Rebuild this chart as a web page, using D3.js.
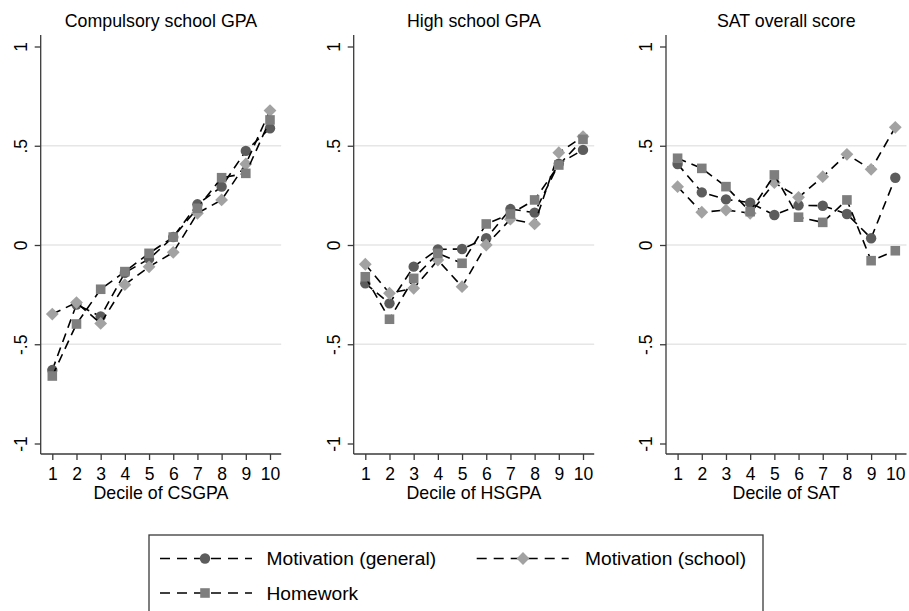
<!DOCTYPE html>
<html>
<head>
<meta charset="utf-8">
<script src="https://cdn.jsdelivr.net/npm/d3@7"></script>
<style>
  html, body { margin: 0; padding: 0; background: #fff; }
  svg { display: block; font-family: "Liberation Sans", Arial, sans-serif; }
</style>
</head>
<body>
<svg id="chart" width="909" height="611"></svg>
<script>
// ---- data ----
const deciles = [1, 2, 3, 4, 5, 6, 7, 8, 9, 10];
const panelTitles = ["Compulsory school GPA", "High school GPA", "SAT overall score"];
const xTitles = ["Decile of CSGPA", "Decile of HSGPA", "Decile of SAT"];
const yTicks = [-1, -0.5, 0, 0.5, 1];
const yTickLabels = ["-1", "-.5", "0", ".5", "1"];
const seriesNames = ["Motivation (general)", "Motivation (school)", "Homework"];

const csgpaGeneral  = [-0.63, -0.30, -0.36, -0.14, -0.07, 0.04, 0.205, 0.294, 0.474, 0.588];
const csgpaSchool   = [-0.348, -0.29, -0.395, -0.20, -0.11, -0.037, 0.16, 0.227, 0.408, 0.677];
const csgpaHomework = [-0.66, -0.398, -0.223, -0.134, -0.042, 0.04, 0.185, 0.339, 0.361, 0.63];

const hsgpaGeneral  = [-0.193, -0.294, -0.109, -0.022, -0.02, 0.034, 0.181, 0.163, 0.41, 0.479];
const hsgpaSchool   = [-0.097, -0.243, -0.218, -0.076, -0.21, 0.0, 0.13, 0.106, 0.465, 0.546];
const hsgpaHomework = [-0.16, -0.374, -0.168, -0.042, -0.092, 0.106, 0.156, 0.227, 0.403, 0.532];

const satGeneral  = [0.408, 0.265, 0.23, 0.213, 0.151, 0.2, 0.198, 0.156, 0.034, 0.339];
const satSchool   = [0.294, 0.165, 0.176, 0.16, 0.314, 0.24, 0.344, 0.457, 0.381, 0.593];
const satHomework = [0.437, 0.386, 0.294, 0.168, 0.353, 0.14, 0.114, 0.227, -0.079, -0.029];

const panelData = [
  [csgpaGeneral, csgpaSchool, csgpaHomework],
  [hsgpaGeneral, hsgpaSchool, hsgpaHomework],
  [satGeneral, satSchool, satHomework]
];

// ---- styles ----
const markerColors = ["#5c5c5c", "#a2a2a2", "#7e7e7e"];
const markerSizes = [85, 82, 92];
const dash = "9,6";
const axisColor = "#3a3a3a";

function markerPath(s) {
  if (s === 0) return d3.symbol().type(d3.symbolCircle).size(markerSizes[s])();
  return d3.symbol().type(d3.symbolSquare).size(markerSizes[s])();
}
function markerRot(s) { return s === 1 ? " rotate(45)" : ""; }

const svg = d3.select("#chart");

const plotLefts = [40.7, 353.7, 666];
const plotW = 240.5;
const plotTop = 35, plotBottom = 454;

const y = d3.scaleLinear().domain([-1, 1]).range([443.5, 46.5]);

panelData.forEach((series, p) => {
  const left = plotLefts[p];
  const x = d3.scaleLinear().domain([1, 10]).range([left + 11.6, left + 229.3]);
  const g = svg.append("g");

  // gridlines
  g.selectAll("line.grid").data(yTicks.filter(t => Math.abs(t) < 1)).enter()
    .append("line")
    .attr("x1", left).attr("x2", left + plotW)
    .attr("y1", d => y(d)).attr("y2", d => y(d))
    .attr("stroke", "#e6e6e6").attr("stroke-width", 1.5);

  // y axis
  const yAxis = d3.axisLeft(y).tickValues(yTicks).tickSize(6)
    .tickFormat((d, i) => yTickLabels[i]);
  const ya = g.append("g").attr("transform", `translate(${left},0)`).call(yAxis);
  ya.select(".domain").attr("d", `M0,${plotTop}V${plotBottom}`).attr("stroke", axisColor).attr("stroke-width", 1.3);
  ya.selectAll(".tick line").attr("stroke", axisColor).attr("stroke-width", 1.3);
  ya.selectAll(".tick text")
    .attr("x", 0).attr("dy", 0)
    .attr("transform", "translate(-14,0) rotate(-90)")
    .attr("text-anchor", "middle")
    .attr("font-size", 17.5).attr("fill", "#000")
    .attr("font-family", '"Liberation Sans", Arial, sans-serif');

  // x axis
  const xAxis = d3.axisBottom(x).tickValues(deciles).tickSize(6).tickFormat(d3.format("d"));
  const xa = g.append("g").attr("transform", `translate(0,${plotBottom})`).call(xAxis);
  xa.select(".domain").attr("d", `M${left},0H${left + plotW}`).attr("stroke", axisColor).attr("stroke-width", 1.3);
  xa.selectAll(".tick line").attr("stroke", axisColor).attr("stroke-width", 1.3);
  xa.selectAll(".tick text")
    .attr("y", 0).attr("dy", 0)
    .attr("transform", "translate(0,25.5)")
    .attr("font-size", 17.5).attr("fill", "#000")
    .attr("font-family", '"Liberation Sans", Arial, sans-serif');

  // titles
  g.append("text").attr("x", left + plotW / 2).attr("y", 26.5)
    .attr("text-anchor", "middle").attr("font-size", 17.8).attr("fill", "#000")
    .text(panelTitles[p]);
  g.append("text").attr("x", left + plotW / 2).attr("y", 499)
    .attr("text-anchor", "middle").attr("font-size", 17.8).attr("fill", "#000")
    .text(xTitles[p]);

  // series
  const line = d3.line().x((d, i) => x(deciles[i])).y(d => y(d));
  series.forEach((vals, s) => {
    g.append("path").datum(vals)
      .attr("d", line).attr("fill", "none")
      .attr("stroke", "#000").attr("stroke-width", 1.6)
      .attr("stroke-dasharray", dash);
    g.selectAll(null).data(vals).enter().append("path")
      .attr("d", markerPath(s))
      .attr("transform", (d, i) => `translate(${x(deciles[i])},${y(d)})` + markerRot(s))
      .attr("fill", markerColors[s]);
  });
});

// ---- legend ----
const lg = svg.append("g");
lg.append("rect").attr("x", 149).attr("y", 535).attr("width", 614).attr("height", 90)
  .attr("fill", "#fff").attr("stroke", "#3a3a3a").attr("stroke-width", 1.3);

const legendPos = [
  { x0: 160, mx: 205, tx: 266.5, y: 558.5 },
  { x0: 476.7, mx: 523, tx: 585, y: 558.5 },
  { x0: 160, mx: 205, tx: 266.5, y: 593 }
];
seriesNames.forEach((name, s) => {
  const pos = legendPos[s];
  lg.append("line").attr("x1", pos.x0).attr("x2", pos.x0 + 92)
    .attr("y1", pos.y).attr("y2", pos.y)
    .attr("stroke", "#000").attr("stroke-width", 1.6).attr("stroke-dasharray", "10,7");
  lg.append("path")
    .attr("d", markerPath(s))
    .attr("transform", `translate(${pos.mx},${pos.y})` + markerRot(s))
    .attr("fill", markerColors[s]);
  lg.append("text").attr("x", pos.tx).attr("y", pos.y + 6.5)
    .attr("font-size", 19.2).attr("fill", "#000").text(name);
});
</script>
</body>
</html>
